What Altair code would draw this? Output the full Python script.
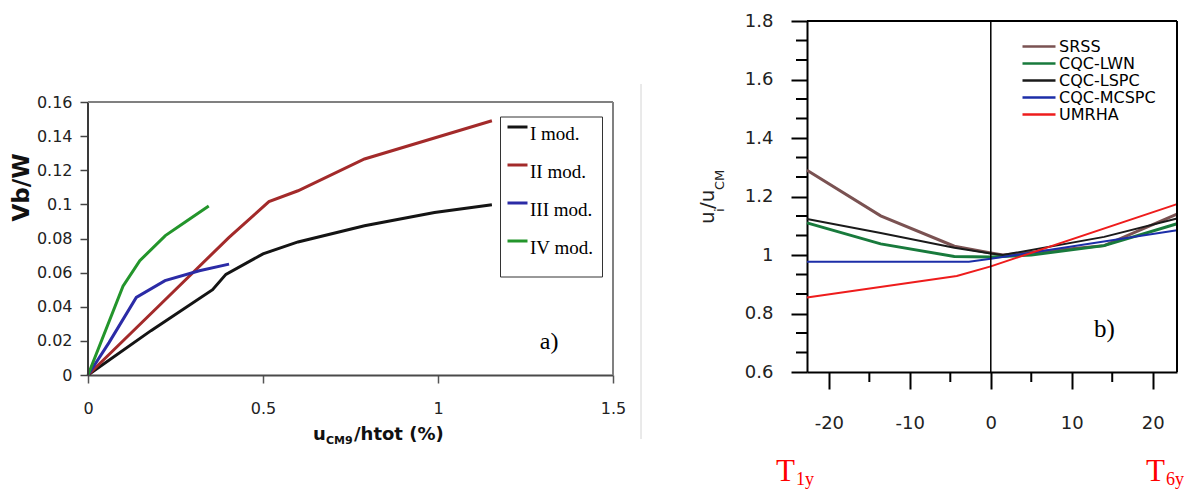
import altair as alt
import pandas as pd

# ---------------- panel a) data ----------------
A_SERIES = ["I mod.", "II mod.", "III mod.", "IV mod."]
A_COLORS = ["#141414", "#a32a2a", "#2b2ba6", "#23952b"]
A1_X = [0, 0.18, 0.356, 0.394, 0.5, 0.6, 0.79, 0.99, 1.154]
A1_Y = [0, 0.026, 0.050, 0.059, 0.071, 0.078, 0.0875, 0.0953, 0.0998]
A2_X = [0, 0.2, 0.403, 0.517, 0.6, 0.79, 1.154]
A2_Y = [0, 0.040, 0.0807, 0.1016, 0.108, 0.1266, 0.149]
A3_X = [0, 0.06, 0.138, 0.22, 0.318, 0.403]
A3_Y = [0, 0.019, 0.0455, 0.0553, 0.0611, 0.065]
A4_X = [0, 0.1, 0.148, 0.221, 0.28, 0.345]
A4_Y = [0, 0.052, 0.067, 0.0817, 0.09, 0.099]
A_XTICKS = [0, 0.5, 1, 1.5]
A_YTICKS = [0, 0.02, 0.04, 0.06, 0.08, 0.1, 0.12, 0.14, 0.16]
A_XDOMAIN = [0, 1.5]
A_YDOMAIN = [0, 0.2075]
A_YTOP = 0.16

# ---------------- panel b) data ----------------
B_SERIES = ["SRSS", "CQC-LWN", "CQC-LSPC", "CQC-MCSPC", "UMRHA"]
B_COLORS = ["#7a5252", "#187a3c", "#1a1a1a", "#1c2ea8", "#ee1c1c"]
B_WIDTHS = [3, 3, 2, 2, 2]
B1_X = [-22.7, -13.6, -4.5, 0, 1.5, 14, 23]
B1_Y = [1.29, 1.134, 1.03, 1.007, 1.0, 1.032, 1.14]
B2_X = [-22.7, -13.6, -4.5, 0, 5, 14, 23]
B2_Y = [1.11, 1.038, 0.995, 0.993, 1.0, 1.032, 1.107]
B3_X = [-22.7, -13.6, -4.5, 0, 1.5, 14, 23]
B3_Y = [1.123, 1.075, 1.025, 1.005, 1.0, 1.062, 1.125]
B4_X = [-22.7, -2.7, 0, 23]
B4_Y = [0.977, 0.977, 0.987, 1.085]
B5_X = [-22.7, -4.2, 0, 23]
B5_Y = [0.855, 0.928, 0.961, 1.174]
B_XTICKS = [-20, -10, 0, 10, 20]
B_XMINOR = [-15, -5, 5, 15]
B_YTICKS = [0.6, 0.8, 1.0, 1.2, 1.4, 1.6, 1.8]
B_YMINOR = [0.6667, 0.7333, 0.8667, 0.9333, 1.0667, 1.1333,
            1.2667, 1.3333, 1.4667, 1.5333, 1.6667, 1.7333]
B_XDOMAIN = [-22.7, 23.0]
B_YDOMAIN = [0.6, 1.8]


def long_frame(names, xs_list, ys_list):
    rows = []
    for name, xs, ys in zip(names, xs_list, ys_list):
        for i, (x, y) in enumerate(zip(xs, ys)):
            rows.append({"s": name, "x": x, "y": y, "i": i})
    return pd.DataFrame(rows)


df_a = long_frame(A_SERIES, [A1_X, A2_X, A3_X, A4_X], [A1_Y, A2_Y, A3_Y, A4_Y])
df_b = long_frame(B_SERIES, [B1_X, B2_X, B3_X, B4_X, B5_X], [B1_Y, B2_Y, B3_Y, B4_Y, B5_Y])
df_b["w"] = df_b["s"].map(dict(zip(B_SERIES, B_WIDTHS)))

SANS = "DejaVu Sans"
SERIF = "Liberation Serif"
HYPHEN_LABELS = "replace(datum.label, '\u2212', '-')"

# ---------------- panel a) ----------------
xa = alt.Scale(domain=A_XDOMAIN, nice=False, zero=False)
ya = alt.Scale(domain=A_YDOMAIN, nice=False)

a_lines = alt.Chart(df_a).mark_line(strokeWidth=3).encode(
    x=alt.X("x:Q", scale=xa, title=None,
            axis=alt.Axis(values=A_XTICKS, format="~g", tickSize=8, tickColor="#555",
                          tickWidth=1.5, domainColor="#4a4a4a", domainWidth=2,
                          labelFont=SANS, labelFontSize=16, labelColor="#222",
                          labelPadding=17, labelFlush=False, grid=False)),
    y=alt.Y("y:Q", scale=ya, title="Vb/W",
            axis=alt.Axis(values=A_YTICKS, format="~g", domain=False, tickSize=8,
                          tickColor="#444", tickWidth=1.5, labelFont=SANS,
                          labelFontSize=16, labelColor="#222", labelPadding=8,
                          titleFont=SANS, titleFontWeight="bold", titleFontSize=23,
                          titlePadding=3, titleY=166, titleColor="#111", grid=False)),
    color=alt.Color("s:N", scale=alt.Scale(domain=A_SERIES, range=A_COLORS),
                    legend=alt.Legend(orient="none", legendX=412, legendY=95.5,
                                      title=" ", titleOrient="bottom", titleFontSize=8,
                                      titlePadding=2, symbolType="M-2,-1.4H2",
                                      symbolSize=100, symbolStrokeWidth=3,
                                      labelFont=SERIF, labelFontSize=19,
                                      labelColor="black", labelOffset=3, rowPadding=14,
                                      padding=8, strokeColor="#333", fillColor="white")),
    order="i:Q",
)

a_yaxis = alt.Chart().mark_rule(color="#3a3a3a", strokeWidth=2).encode(
    x=alt.XDatum(0), y=alt.YDatum(0), y2=alt.Y2Datum(A_YTOP))
a_top = alt.Chart().mark_rule(color="#808080", strokeWidth=2).encode(
    x=alt.XDatum(A_XDOMAIN[0]), x2=alt.X2Datum(A_XDOMAIN[1]), y=alt.YDatum(A_YTOP))
a_right = alt.Chart().mark_rule(color="#808080", strokeWidth=2).encode(
    x=alt.XDatum(A_XDOMAIN[1]), y=alt.YDatum(0), y2=alt.Y2Datum(A_YTOP))
a_label = alt.Chart().mark_text(text="a)", font=SERIF, fontSize=24, align="left",
                                baseline="alphabetic", color="black").encode(
    x=alt.XDatum(1.291), y=alt.YDatum(0.0152))
a_sep = alt.Chart().mark_rule(color="#d4d4d4", strokeWidth=1).encode(
    x=alt.value(553), y=alt.value(63), y2=alt.value(418))


def txt(t, size, x, y, font=SANS, color="#222", angle=0, weight="normal"):
    return alt.Chart().mark_text(text=t, font=font, fontSize=size, align="left",
                                 baseline="alphabetic", color=color, angle=angle,
                                 fontWeight=weight).encode(
        x=alt.value(x), y=alt.value(y))


a_title = [
    txt("u", 18, 225, 419, color="#111", weight="bold"),
    txt("CM9", 11, 238, 423, color="#111", weight="bold"),
    txt("/htot (%)", 18, 266, 419, color="#111", weight="bold"),
]

panel_a = alt.layer(a_lines, a_yaxis, a_top, a_right, a_label, a_sep, *a_title
                    ).properties(width=525, height=354)

# ---------------- panel b) ----------------
xb = alt.Scale(domain=B_XDOMAIN, nice=False, zero=False)
yb = alt.Scale(domain=B_YDOMAIN, nice=False, zero=False)

b_lines = alt.Chart(df_b).mark_line().encode(
    x=alt.X("x:Q", scale=xb, title=None,
            axis=alt.Axis(values=B_XTICKS, format="~g", labelExpr=HYPHEN_LABELS,
                          tickSize=17, tickColor="black",
                          tickWidth=2, domainColor="black", domainWidth=2,
                          labelFont=SANS, labelFontSize=18, labelColor="#222",
                          labelPadding=25, labelFlush=False, grid=False)),
    y=alt.Y("y:Q", scale=yb, title=None,
            axis=alt.Axis(values=B_YTICKS, format="~g", tickSize=16, tickColor="black",
                          tickWidth=2, domainColor="black", domainWidth=2,
                          labelFont=SANS, labelFontSize=18, labelColor="#222",
                          labelPadding=18, labelFlush=False, grid=False)),
    color=alt.Color("sb:N", scale=alt.Scale(domain=B_SERIES, range=B_COLORS),
                    legend=alt.Legend(orient="none", legendX=224, legendY=17.5, title=None,
                                      symbolType="M-3,0H3", symbolSize=121,
                                      symbolStrokeWidth=2.5, labelFont=SANS,
                                      labelFontSize=16, labelColor="black",
                                      labelOffset=12, rowPadding=1, padding=0)),
    strokeWidth=alt.StrokeWidth("w:Q", scale=None, legend=None),
    order="i:Q",
).transform_calculate(sb="datum.s")

b_yminor = alt.Chart(pd.DataFrame({"v": B_YMINOR})).mark_rule(
    color="black", strokeWidth=2).encode(
    y=alt.Y("v:Q"), x=alt.value(-11), x2=alt.value(0))
b_xminor = alt.Chart(pd.DataFrame({"v": B_XMINOR})).mark_rule(
    color="black", strokeWidth=2).encode(
    x=alt.X("v:Q"), y=alt.value(351), y2=alt.value(361))
b_zero = alt.Chart().mark_rule(color="black", strokeWidth=1.5).encode(
    x=alt.XDatum(0))
b_top = alt.Chart().mark_rule(color="black", strokeWidth=2).encode(
    y=alt.YDatum(B_YDOMAIN[1]))
b_right = alt.Chart().mark_rule(color="black", strokeWidth=2).encode(
    x=alt.XDatum(B_XDOMAIN[1]))
b_label = alt.Chart().mark_text(text="b)", font=SERIF, fontSize=25, align="left",
                                baseline="alphabetic", color="black").encode(
    x=alt.XDatum(12.75), y=alt.YDatum(0.72))

b_title = [
    txt("u", 20, -93, 203, angle=270),
    txt("i", 13, -83, 191, angle=270),
    txt("/u", 20, -93, 188, angle=270),
    txt("CM", 13, -83, 169, angle=270),
]
b_T = [
    txt("T", 31, -31, 460, font=SERIF, color="#ff0000"),
    txt("1y", 18, -11, 464, font=SERIF, color="#ff0000"),
    txt("T", 31, 339, 460, font=SERIF, color="#ff0000"),
    txt("6y", 18, 359, 464, font=SERIF, color="#ff0000"),
]

panel_b = alt.layer(b_lines, b_yminor, b_xminor, b_zero, b_top, b_right, b_label,
                    *b_title, *b_T).properties(width=370, height=351)

chart = alt.hconcat(panel_a, panel_b, spacing=56).resolve_scale(
    color="independent", x="independent", y="independent"
).properties(
    padding={"left": 10, "top": 12, "right": 0, "bottom": 0},
    background="white",
).configure_view(strokeWidth=0)

chart.save("out.html", embed_options={"renderer": "svg", "actions": False})
